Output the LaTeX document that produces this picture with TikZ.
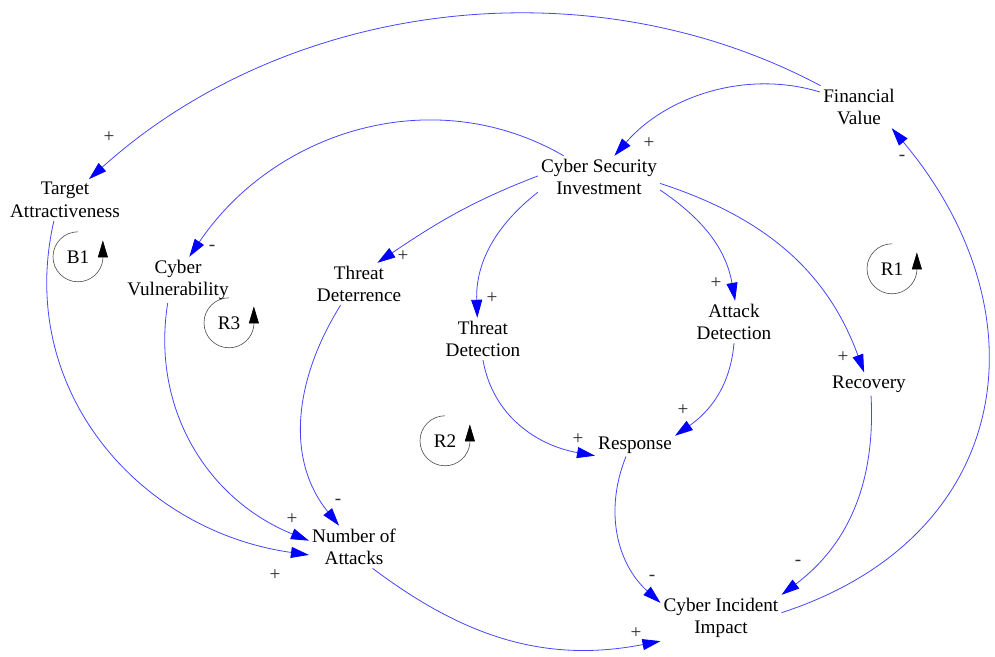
\documentclass[tikz,border=0pt]{standalone}
\usepackage{fontspec}
\setmainfont{Liberation Serif}
\usetikzlibrary{arrows.meta}
\definecolor{linkblue}{RGB}{70,70,255}
\definecolor{signgray}{RGB}{45,45,45}

\begin{document}
\begin{tikzpicture}
	[x=1bp,y=1bp,every node/.style={align=center, inner sep=3bp, font=\fontsize{19.2bp}{22.5bp}\selectfont}]
	\tikzstyle{link} = [draw=linkblue, line width=0.8bp, -{Triangle[length=18bp,width=11bp,color=blue]}];
	\tikzstyle{sgn} = [inner sep=0pt, text=signgray];
	\tikzstyle{loopnode} = [circle, minimum size=50bp, inner sep=0pt];
	\tikzstyle{loopline} = [draw=black!70, line width=0.6bp, -{Triangle[length=17bp,width=10bp,color=black]}];

	\path[use as bounding box, fill=white] (0,0) rectangle (995,657);

	% variables
	\node[] (fv) at (859,550) {Financial\\Value};
	\node[] (csi) at (599,480) {Cyber Security\\Investment};
	\node[] (ta) at (65,457) {Target\\Attractiveness};
	\node[] (cv) at (178,377) {Cyber\\Vulnerability};
	\node[] (td) at (359,373) {Threat\\Deterrence};
	\node[] (tdet) at (483,318) {Threat\\Detection};
	\node[] (ad) at (734,335) {Attack\\Detection};
	\node[] (rec) at (869,273) {Recovery};
	\node[] (resp) at (635,212) {Response};
	\node[] (noa) at (354,110) {Number of\\Attacks};
	\node[] (cii) at (721,39) {Cyber Incident\\Impact};

	% links
	\draw[link] (fv.151) to[out=152,in=42,looseness=0.92] (ta.41);
	\draw[link] (fv.159) to[out=163,in=49,looseness=0.93] (csi.54);
	\draw[link] (csi.149) to[out=150,in=56] (cv.64);
	\draw[link] (csi.179) to[out=201,in=34] (td.49);
	\draw[link] (csi.194) to[out=218,in=92] (tdet.105);
	\draw[link] (csi.348) to[out=326,in=100] (ad.87);
	\draw[link] (csi.354) to[out=342,in=110] (rec.113);
	\draw[link] (tdet.south) to[out=280,in=170] (resp.195);
	\draw[link] (ad.south) to[out=265,in=35] (resp.13);
	\draw[link] (resp.232) to[out=248,in=138] (cii.166);
	\draw[link] (rec.280) to[out=273,in=37] (cii.north east);
	\draw[link] (cii.5) to[out=18,in=310,looseness=1.25] (fv.327);
	\draw[link] (ta.242) to[out=257,in=172,looseness=1.05] (noa.190);
	\draw[link] (cv.246) to[out=261,in=158] (noa.172);
	\draw[link] (td.229) to[out=238,in=129] (noa.125);
	\draw[link] (noa.311) to[out=323,in=191] (cii.south west);

	% polarities
	\node[sgn] (s1) at (109,520) {+};
	\node[sgn] (s2) at (649,514) {+};
	\node[sgn] (s3) at (212,409) {-};
	\node[sgn] (s4) at (403,401) {+};
	\node[sgn] (s5) at (492,359) {+};
	\node[sgn] (s6) at (716,374) {+};
	\node[sgn] (s7) at (843,300) {+};
	\node[sgn] (s8) at (578,218) {+};
	\node[sgn] (s9) at (683,247) {+};
	\node[sgn] (s10) at (652,79) {-};
	\node[sgn] (s11) at (798,94) {-};
	\node[sgn] (s12) at (902,499) {-};
	\node[sgn] (s13) at (275,82) {+};
	\node[sgn] (s14) at (292,138) {+};
	\node[sgn] (s15) at (338,155) {-};
	\node[sgn] (s16) at (636,24) {+};

	% loops
	\node[loopnode] (b1) at (78,400) {B1};
	\node[loopnode] (r3) at (229,334) {R3};
	\node[loopnode] (r2) at (445,216) {R2};
	\node[loopnode] (r1) at (892,388) {R1};
	\draw[loopline] (b1.north) arc[start angle=90,end angle=354,radius=25bp] -- ++(0,19);
	\draw[loopline] (r3.north) arc[start angle=90,end angle=354,radius=25bp] -- ++(0,19);
	\draw[loopline] (r2.north) arc[start angle=90,end angle=354,radius=25bp] -- ++(0,19);
	\draw[loopline] (r1.north) arc[start angle=90,end angle=354,radius=25bp] -- ++(0,19);
\end{tikzpicture}
\end{document}
